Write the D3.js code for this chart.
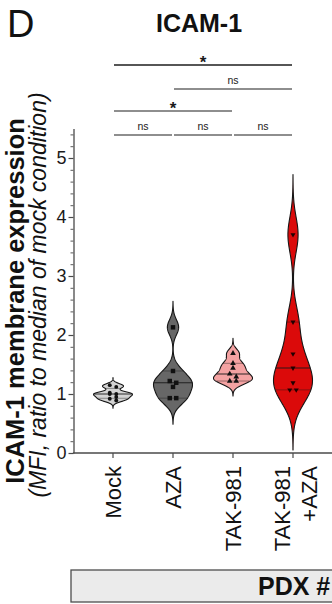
<!DOCTYPE html>
<html>
<head>
<meta charset="utf-8">
<script src="https://cdn.jsdelivr.net/npm/d3@7"></script>
<style>
  html, body { margin: 0; padding: 0; background: #fff; }
  svg { display: block; }
  text { font-family: Arial, "Liberation Sans", Helvetica, sans-serif; }
</style>
</head>
<body>
<svg id="chart" width="332" height="604"></svg>
<script>
// ---- data ----
const categories = ["Mock", "AZA", "TAK-981", "TAK-981 +AZA"];
const categoryLabelLines = [["Mock"], ["AZA"], ["TAK-981"], ["TAK-981", "+AZA"]];

const mockValues  = [1.15, 1.12, 1.02, 1.00, 1.00, 0.95, 0.92, 0.89];
const azaValues   = [2.13, 1.39, 1.22, 1.19, 1.12, 0.93, 0.93];
const takValues   = [1.69, 1.52, 1.44, 1.34, 1.29, 1.22, 1.22];
const comboValues = [3.70, 2.22, 1.68, 1.44, 1.19, 1.07, 1.07];
const seriesValues = [mockValues, azaValues, takValues, comboValues];

// kernel bandwidth per condition (value units)
const kdeBandwidths = [0.038, 0.13, 0.075, 0.30];

const yTickValues = [0, 1, 2, 3, 4, 5];
const yMinorTickValues = [0.2, 0.4, 0.6, 0.8, 1.2, 1.4, 1.6, 1.8, 2.2, 2.4, 2.6, 2.8,
                          3.2, 3.4, 3.6, 3.8, 4.2, 4.4, 4.6, 4.8, 5.2, 5.4];

// pairwise comparisons: [from, to, label, bracket row]
const comparisonFrom  = ["Mock", "AZA", "Mock", "Mock", "AZA", "TAK-981"];
const comparisonTo    = ["TAK-981 +AZA", "TAK-981 +AZA", "TAK-981", "AZA", "TAK-981", "TAK-981 +AZA"];
const comparisonLabel = ["*", "ns", "*", "ns", "ns", "ns"];
const comparisonRow   = [0, 1, 2, 3, 3, 3];

// ---- styling ----
const fillColors = ["#d3d3d3", "#676767", "#f4a2a2", "#db0a0a"];
const markerTypes = [d3.symbolCircle, d3.symbolSquare, d3.symbolTriangle, d3.symbolTriangle];
const markerSizes = [12, 20, 14, 11];
const markerRotation = [0, 0, 0, 180];
const markerColors = ["#111", "#111", "#111", "#220000"];

const svg = d3.select("#chart");
const axisX0 = 73.5;
const halfWidthMax = 19.5;
const swarmSpacing = 6.5;

const x = d3.scalePoint().domain(categories).range([113, 293]);
const y = d3.scaleLinear().domain([0, 5.5]).range([453, 128.5]);

// ---- panel letter and title ----
svg.append("text").attr("x", 7).attr("y", 37)
  .attr("font-size", 38).attr("fill", "#111").text("D");
svg.append("text").attr("x", 199).attr("y", 32)
  .attr("text-anchor", "middle").attr("font-size", 25).attr("font-weight", "bold")
  .attr("fill", "#111").text("ICAM-1");

// ---- y axis ----
const yAxisG = svg.append("g").attr("transform", `translate(${axisX0},0)`)
  .call(d3.axisLeft(y).tickValues(yTickValues).tickSize(5).tickSizeOuter(0)
        .tickPadding(2).tickFormat(d3.format("d")));
yAxisG.select(".domain").attr("stroke", "#4a4a4a").attr("stroke-width", 1.3);
yAxisG.selectAll(".tick line").attr("stroke", "#4a4a4a").attr("stroke-width", 1.2);
yAxisG.selectAll(".tick text").attr("font-size", 18).attr("fill", "#1a1a1a")
  .attr("font-family", "Arial, 'Liberation Sans', sans-serif");

const yMinorG = svg.append("g").attr("transform", `translate(${axisX0},0)`)
  .call(d3.axisLeft(y).tickValues(yMinorTickValues).tickSize(3).tickSizeOuter(0).tickFormat(""));
yMinorG.select(".domain").remove();
yMinorG.selectAll(".tick line").attr("stroke", "#5a5a5a").attr("stroke-width", 1);

// y axis titles
svg.append("text")
  .attr("transform", `translate(23.5,301) rotate(-90)`)
  .attr("text-anchor", "middle").attr("font-size", 25.5).attr("font-weight", "bold")
  .attr("fill", "#111").text("ICAM-1 membrane expression");
svg.append("text")
  .attr("transform", `translate(46,295) rotate(-90)`)
  .attr("text-anchor", "middle").attr("font-size", 23).attr("font-style", "italic")
  .attr("fill", "#111").text("(MFI, ratio to median of mock condition)");

// ---- x axis ----
svg.append("line")
  .attr("x1", axisX0 - 0.6).attr("x2", 332).attr("y1", y(0)).attr("y2", y(0))
  .attr("stroke", "#4a4a4a").attr("stroke-width", 1.3);
svg.selectAll(".xtick").data(categories).join("line")
  .attr("class", "xtick")
  .attr("x1", d => x(d)).attr("x2", d => x(d))
  .attr("y1", y(0)).attr("y2", y(0) + 5)
  .attr("stroke", "#4a4a4a").attr("stroke-width", 1.2);

const xLabels = svg.selectAll(".xlabel").data(categories).join("text")
  .attr("class", "xlabel")
  .attr("transform", d => `translate(${x(d)},466) rotate(-90)`)
  .attr("text-anchor", "end").attr("font-size", 22).attr("fill", "#111");
xLabels.each(function (d, i) {
  const lines = categoryLabelLines[i];
  const t = d3.select(this);
  lines.forEach((ln, j) => {
    t.append("tspan").attr("x", 0)
      .attr("dy", lines.length === 1 ? "0.35em" : (j === 0 ? "-0.12em" : "1.2em"))
      .text(ln);
  });
});

// ---- violins ----
function gaussKde(values, bw, grid) {
  const k = 1 / (Math.sqrt(2 * Math.PI) * bw * values.length);
  return grid.map(g => [g, k * d3.sum(values, v => Math.exp(-0.5 * ((g - v) / bw) ** 2))]);
}
// quartile using the (n+1)p position rule
function quartile(sorted, p) {
  const n = sorted.length;
  const pos = p * (n + 1);
  if (pos <= 1) return sorted[0];
  if (pos >= n) return sorted[n - 1];
  const lo = Math.floor(pos), frac = pos - lo;
  return sorted[lo - 1] + frac * (sorted[lo] - sorted[lo - 1]);
}

categories.forEach((cat, i) => {
  const vals = seriesValues[i];
  const bw = kdeBandwidths[i];
  const cx = x(cat);
  const lo = Math.max(0, d3.min(vals) - 3.4 * bw);
  const hi = d3.max(vals) + 3.4 * bw;
  const steps = 240;
  const grid = d3.range(steps + 1).map(s => lo + (hi - lo) * s / steps);
  const dens = gaussKde(vals, bw, grid);
  const dMax = d3.max(dens, d => d[1]);
  const w = d3.scaleLinear().domain([0, dMax]).range([0, halfWidthMax]);
  const halfWidthAt = v => {
    const idx = Math.max(0, Math.min(steps - 1, Math.floor((v - lo) / (hi - lo) * steps)));
    const a = dens[idx], b = dens[idx + 1];
    const f = (v - a[0]) / (b[0] - a[0]);
    return w(a[1] + f * (b[1] - a[1]));
  };

  const area = d3.area()
    .y(d => y(d[0]))
    .x0(d => cx - w(d[1]))
    .x1(d => cx + w(d[1]))
    .curve(d3.curveLinear);

  const g = svg.append("g");
  g.append("path").datum(dens).attr("d", area)
    .attr("fill", fillColors[i]).attr("stroke", "#161616").attr("stroke-width", 1.1)
    .attr("stroke-linejoin", "round");

  const sorted = vals.slice().sort(d3.ascending);
  const q1 = quartile(sorted, 0.25), med = d3.median(sorted), q3 = quartile(sorted, 0.75);
  [[q1, 0.7], [q3, 0.7], [med, 1.1]].forEach(([v, sw]) => {
    const hw = halfWidthAt(v);
    g.append("line")
      .attr("x1", cx - hw).attr("x2", cx + hw).attr("y1", y(v)).attr("y2", y(v))
      .attr("stroke", "#1a1a1a").attr("stroke-width", sw).attr("stroke-opacity", sw > 1 ? 0.9 : 0.6);
  });

  // points: pair up neighbours that sit within a few pixels of each other
  const desc = vals.slice().sort(d3.descending);
  const groups = [];
  desc.forEach(v => {
    const last = groups[groups.length - 1];
    if (last && last.length < 2 && Math.abs(y(last[0]) - y(v)) < 4) last.push(v);
    else groups.push([v]);
  });
  const sym = d3.symbol().type(markerTypes[i]).size(markerSizes[i]);
  groups.forEach(grp => {
    grp.forEach((v, j) => {
      const off = (j - (grp.length - 1) / 2) * swarmSpacing;
      g.append("path").attr("d", sym())
        .attr("transform", `translate(${cx + off},${y(v)}) rotate(${markerRotation[i]})`)
        .attr("fill", markerColors[i]);
    });
  });
});

// ---- significance brackets ----
const rowY = [65, 89, 111, 135];
comparisonFrom.forEach((from, i) => {
  const x1 = x(from) + 1, x2 = x(comparisonTo[i]) - 1;
  const ly = rowY[comparisonRow[i]];
  svg.append("line").attr("x1", x1).attr("x2", x2).attr("y1", ly).attr("y2", ly)
    .attr("stroke", "#1e1e1e").attr("stroke-width", comparisonRow[i] === 0 ? 1.6 : 1.2);
  const isStar = comparisonLabel[i] === "*";
  svg.append("text")
    .attr("x", (x1 + x2) / 2).attr("y", isStar ? ly + 3 : ly - 5.5)
    .attr("text-anchor", "middle")
    .attr("font-size", isStar ? 17 : 10.5)
    .attr("font-weight", isStar ? "bold" : "normal")
    .attr("fill", "#1a1a1a")
    .text(comparisonLabel[i]);
});

// ---- sample group banner ----
svg.append("rect").attr("x", 71).attr("y", 570).attr("width", 300).attr("height", 32)
  .attr("fill", "#ebebeb").attr("stroke", "#4d4d4d").attr("stroke-width", 1.3);
svg.append("text").attr("x", 258).attr("y", 595)
  .attr("font-size", 25).attr("font-weight", "bold").attr("fill", "#111").text("PDX #");
</script>
</body>
</html>
